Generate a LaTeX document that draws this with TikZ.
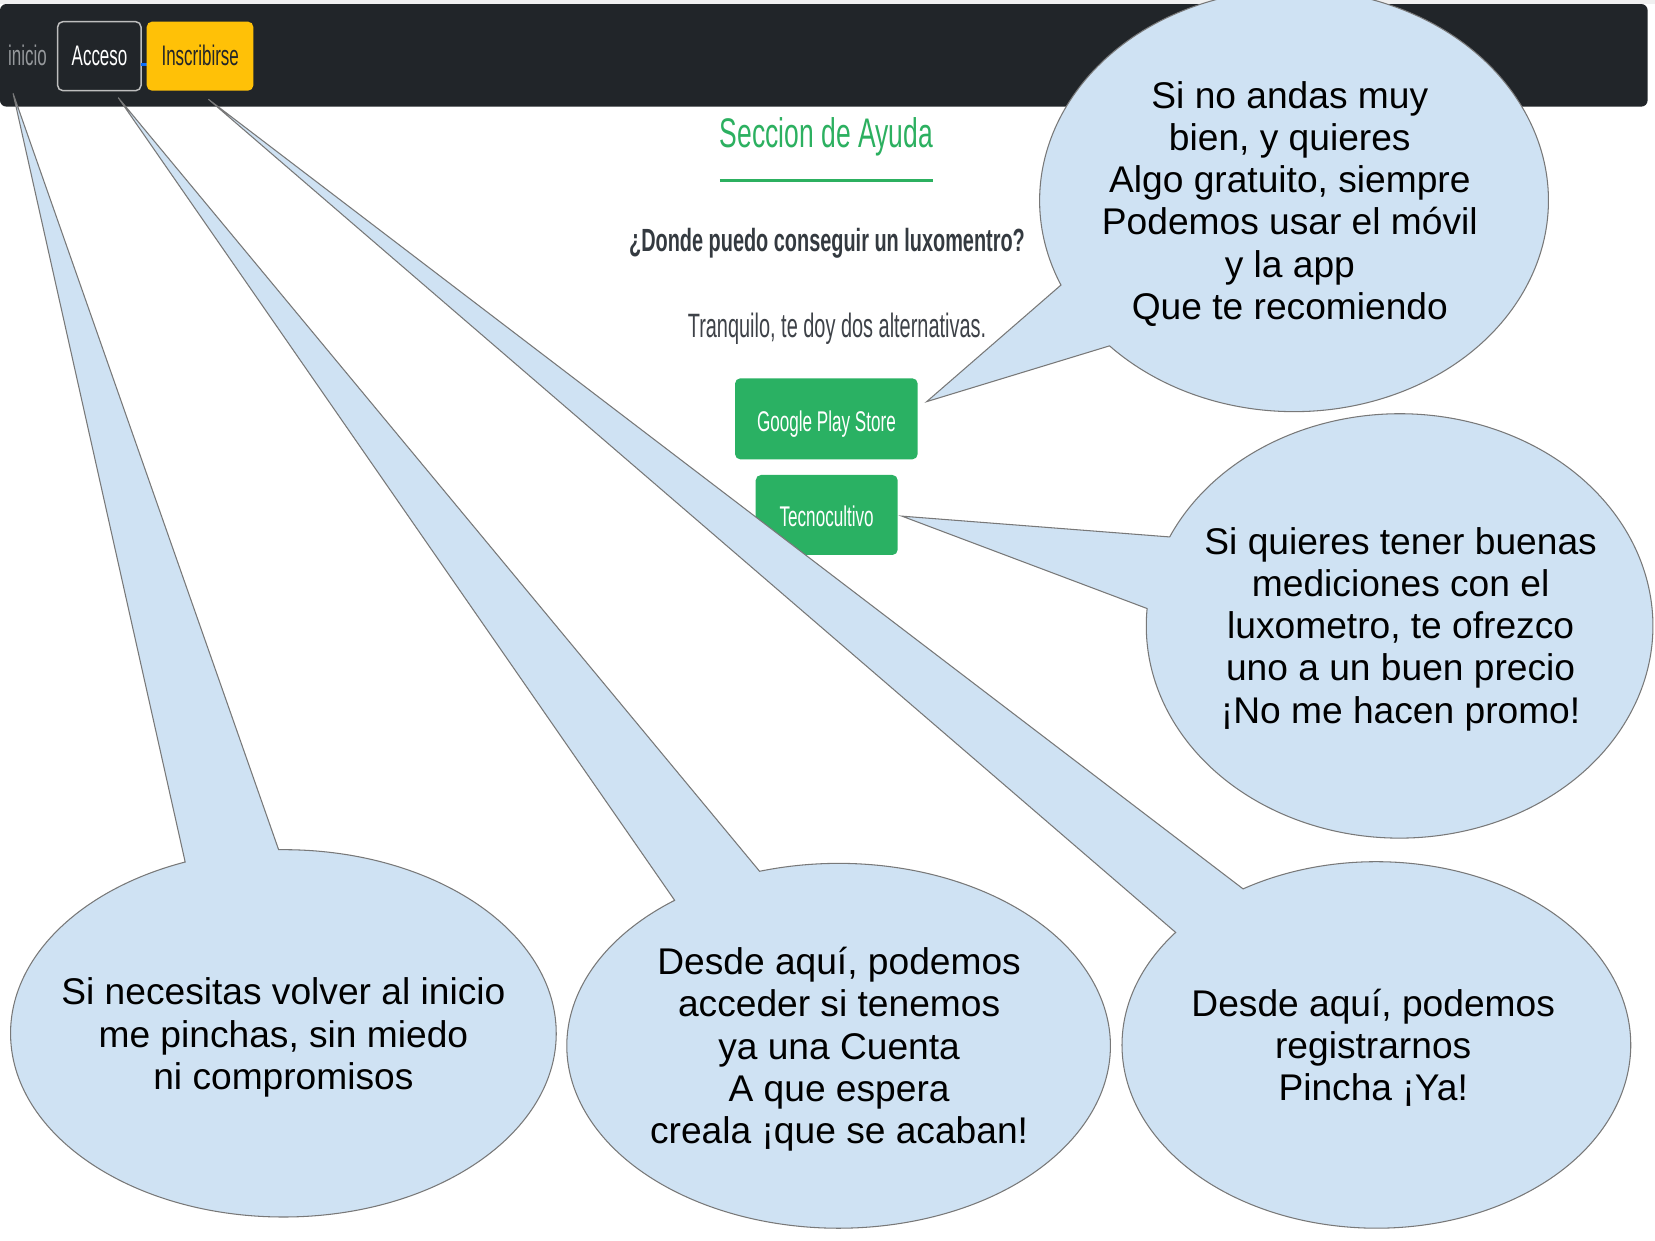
\documentclass[tikz,border=0pt]{standalone}
\usepackage{fontspec}
\setmainfont{Liberation Sans}
\newfontfamily\navfont[FakeStretch=0.6]{Liberation Sans}
\newfontfamily\titlefont[FakeStretch=0.64]{Liberation Sans}
\newfontfamily\questfont[FakeStretch=0.62]{Liberation Sans}
\newfontfamily\bodyfont[FakeStretch=0.59]{Liberation Sans}
\definecolor{navbg}{RGB}{33,37,41}
\definecolor{navgray}{RGB}{150,153,156}
\definecolor{btnborder}{RGB}{190,190,190}
\definecolor{warnyellow}{RGB}{255,193,7}
\definecolor{linkblue}{RGB}{13,110,253}
\definecolor{titlegreen}{RGB}{44,176,96}
\definecolor{btngreen}{RGB}{42,177,99}
\definecolor{darktext}{RGB}{52,58,64}
\definecolor{midtext}{RGB}{62,66,72}
\definecolor{bubblefill}{RGB}{207,226,243}
\definecolor{bubbleline}{RGB}{120,120,120}
\tikzset{
  bubble/.style={fill=bubblefill, draw=bubbleline, line width=0.5pt, line join=miter},
  bubbletext/.style={align=center, font=\fontsize{17.6pt}{20pt}\selectfont, text=black, inner sep=0pt},
  navtext/.style={anchor=base, inner sep=0pt, font=\navfont\fontsize{13.4pt}{15pt}\selectfont},
  pagebtn/.style={fill=btngreen, rounded corners=2.5pt},
  btntext/.style={anchor=base, inner sep=0pt, text=white, font=\navfont\fontsize{13.5pt}{15pt}\selectfont}
}
% #1 center, #2 rx, #3 ry, #4 start angle, #5 end angle, #6 tip
\newcommand\calloutshape[6]{%
  \path[bubble] ($(#1)+({#2*cos(#4)},{#3*sin(#4)})$)
    arc[start angle=#4, end angle=#5, x radius=#2, y radius=#3] -- (#6) -- cycle;}
\usetikzlibrary{calc}
\begin{document}
\begin{tikzpicture}[x=0.5pt, y=-0.5pt]
\useasboundingbox (0,0) rectangle (1568,1175);
\fill[white] (0,0) rectangle (1568,1175);
% ---------- web page ----------
\fill[gray!12] (0,0) rectangle (1568,4);
\fill[navbg, rounded corners=3pt] (0,3.8) rectangle (1561,101);
\node[navtext, text=navgray] (inicio) at (26,61.6) {inicio};
\draw[btnborder, line width=0.7pt, rounded corners=2.5pt] (54.6,20.5) rectangle (133.6,85.9);
\node[navtext, text=white] (acceso) at (94.3,61.6) {Acceso};
\fill[linkblue] (134,59.4) rectangle (139,62.5);
\fill[warnyellow, rounded corners=2.5pt] (139,20.5) rectangle (240,85.9);
\node[navtext, text=navbg] (inscribirse) at (189.7,61.6) {Inscribirse};
\node[anchor=base, inner sep=0pt, text=titlegreen, font=\titlefont\fontsize{19.6pt}{22pt}\selectfont] (titulo) at (783,140) {Seccion de Ayuda};
\draw[titlegreen, line width=1.6pt] (682,171) -- (884,171);
\node[anchor=base, inner sep=0pt, text=darktext, font=\questfont\bfseries\fontsize{15.2pt}{17pt}\selectfont] (pregunta) at (783.5,238) {¿Donde puedo conseguir un luxomentro?};
\node[anchor=base, inner sep=0pt, text=midtext, font=\bodyfont\fontsize{16pt}{18pt}\selectfont] (tranquilo) at (793,320) {Tranquilo, te doy dos alternativas.};
\fill[pagebtn] (696.4,358.4) rectangle (869.4,435.2);
\node[btntext] (google) at (783,409) {Google Play Store};
\fill[pagebtn] (716,450) rectangle (850.5,525.8);
\node[btntext] (tecno) at (783.2,499) {Tecnocultivo};
% ---------- callouts ----------
\coordinate (cTR) at (1226,190);
\coordinate (cR) at (1326,593);
\coordinate (cBL) at (268.5,979);
\coordinate (cBM) at (794.5,990.8);
\coordinate (cBR) at (1304,990);
\coordinate (tipGoogle) at (878,380.5);
\coordinate (tipTecno) at (854.5,489);
\coordinate (tipInicio) at (12.4,88.5);
\coordinate (tipAcceso) at (112,92.5);
\coordinate (tipInscribirse) at (197.4,94);
\calloutshape{cTR}{241}{200}{156.4}{496.5}{tipGoogle}
\calloutshape{cR}{240}{201}{204.8}{544.7}{tipTecno}
\calloutshape{cBL}{258.5}{174}{269.0}{608.9}{tipInicio}
\calloutshape{cBM}{257.5}{172.8}{253.1}{592.9}{tipAcceso}
\calloutshape{cBR}{241}{173.6}{238.4}{577.9}{tipInscribirse}
\node[bubbletext] (tTR) at (1222,193) {Si no andas muy\\bien, y quieres\\Algo gratuito, siempre\\Podemos usar el móvil\\y la app\\Que te recomiendo};
\node[bubbletext] (tR) at (1327,596) {Si quieres tener buenas\\mediciones con el\\luxometro, te ofrezco\\uno a un buen precio\\¡No me hacen promo!};
\node[bubbletext] (tBL) at (268.5,983) {Si necesitas volver al inicio\\me pinchas, sin miedo\\ni compromisos};
\node[bubbletext] (tBM) at (795,994) {Desde aquí, podemos\\acceder si tenemos\\ya una Cuenta\\A que espera\\creala ¡que se acaban!};
\node[bubbletext] (tBR) at (1301,992.5) {Desde aquí, podemos\\registrarnos\\Pincha ¡Ya!};
\end{tikzpicture}
\end{document}
